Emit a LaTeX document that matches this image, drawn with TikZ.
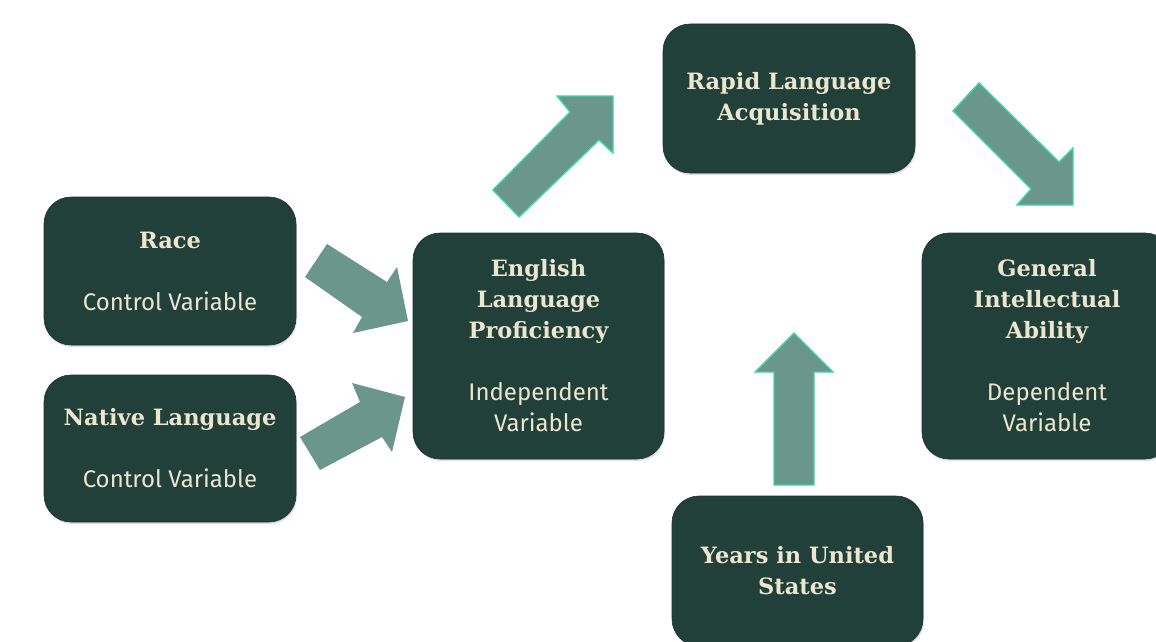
\documentclass[tikz,border=0pt]{standalone}
\usepackage{fontspec}
\newfontfamily\titlefont{DejaVu Serif}
\newfontfamily\subfont{Fira Sans}
\usetikzlibrary{shadows}
\definecolor{boxfill}{HTML}{22403A}
\definecolor{boxtext}{HTML}{EDE6CF}
\definecolor{arrowfill}{HTML}{6A968B}
\definecolor{arrowline}{HTML}{3DD6A3}
\tikzset{
  vbox/.style={draw=boxfill!80!black, line width=0.6pt, fill=boxfill, rounded corners=27pt,
    text=boxtext, align=center, inner sep=0pt,
    drop shadow={opacity=0.25, shadow xshift=1pt, shadow yshift=-2pt}},
  tt/.style={font=\titlefont\bfseries\fontsize{22.5}{31}\selectfont},
  blockarrow/.style={fill=arrowfill},
  blockarrowedge/.style={fill=arrowfill, draw=arrowline, line width=1.4pt, line join=miter}
}
\newcommand{\subtxt}[1]{{\subfont\mdseries\fontsize{24}{31}\selectfont #1}}
\begin{document}
\begin{tikzpicture}[x=1pt,y=-1pt]
\useasboundingbox (0,0) rectangle (1156,642);
\fill[white] (0,0) rectangle (1156,642);
\begin{scope}
\clip (0,0) rectangle (1156,642);
\node[vbox, tt, minimum width=252pt, minimum height=148pt] (race) at (170,271)
  {Race\\[31pt]\subtxt{Control Variable}};
\node[vbox, tt, minimum width=252pt, minimum height=147pt] (native) at (170,448.5)
  {Native Language\\[31pt]\subtxt{Control Variable}};
\node[vbox, tt, minimum width=251pt, minimum height=226pt] (english) at (538.5,346)
  {English\\Language\\Proficiency\\[31pt]\subtxt{Independent}\\\subtxt{Variable}};
\node[vbox, tt, minimum width=252pt, minimum height=149pt] (rapid) at (789,98.5)
  {Rapid Language\\Acquisition};
\node[vbox, tt, minimum width=250pt, minimum height=226pt] (general) at (1047,346)
  {General\\Intellectual\\Ability\\[31pt]\subtxt{Dependent}\\\subtxt{Variable}};
\node[vbox, tt, minimum width=251pt, minimum height=150pt] (years) at (797.5,571)
  {Years in United\\States};
% block arrows
\fill[blockarrow] (327,244) -- (387,282) -- (397,267) -- (408,321) -- (353,333) -- (362,317) -- (305,277) -- cycle;
\fill[blockarrow] (300,437) -- (360,402) -- (352,383) -- (405,397) -- (392,452) -- (382,437) -- (320,470) -- cycle;
\draw[blockarrowedge] (493,190) -- (570,112) -- (557,96) -- (613,96) -- (613,153) -- (599,140) -- (519,217) -- cycle;
\draw[blockarrowedge] (979,83) -- (1059,162) -- (1073,148) -- (1073,205) -- (1017,205) -- (1031,189) -- (953,111) -- cycle;
\draw[blockarrowedge] (774,485) -- (774,372) -- (755,372) -- (794,333) -- (833,372) -- (814,372) -- (814,485) -- cycle;
\end{scope}
\end{tikzpicture}
\end{document}
